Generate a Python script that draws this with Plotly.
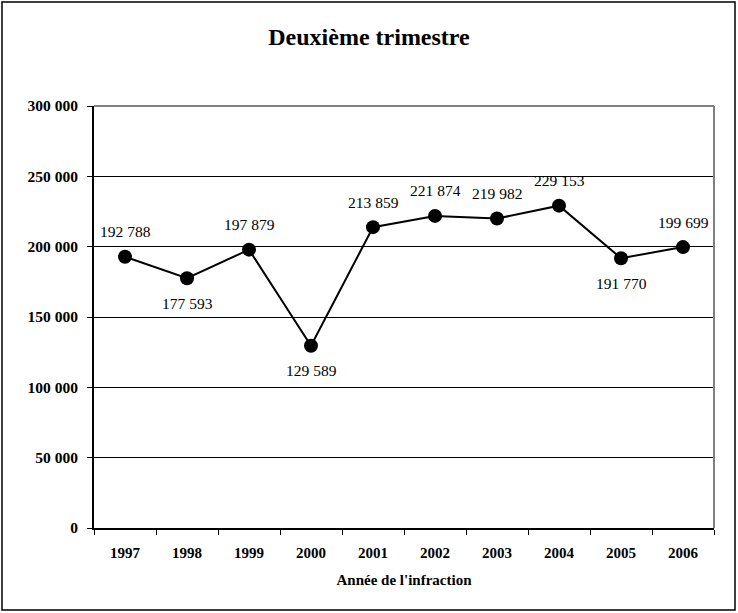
import plotly.graph_objects as go

years = ["1997", "1998", "1999", "2000", "2001", "2002", "2003", "2004", "2005", "2006"]
values = [192788, 177593, 197879, 129589, 213859, 221874, 219982, 229153, 191770, 199699]
label_text = ["192 788", "177 593", "197 879", "129 589", "213 859", "221 874", "219 982", "229 153", "191 770", "199 699"]
label_above = [True, False, True, False, True, True, True, True, False, True]

serif = "Liberation Serif, Times New Roman, serif"

fig = go.Figure()
fig.add_trace(go.Scatter(
    x=years, y=values, mode="lines+markers",
    line=dict(color="black", width=2),
    marker=dict(color="black", size=14),
    hoverinfo="skip", showlegend=False,
))

for i, (v, t, up) in enumerate(zip(values, label_text, label_above)):
    fig.add_annotation(x=i, y=v, xref="x", yref="y", text=t, showarrow=False,
                       yshift=25 if up else -25,
                       font=dict(family=serif, size=15.5, color="black"))

fig.update_layout(
    width=738, height=613,
    margin=dict(l=94, r=24, t=106, b=85, autoexpand=False),
    paper_bgcolor="white", plot_bgcolor="white",
    separators=", ",
    title=dict(text="Deuxième trimestre", x=0.5, xref="container", xanchor="center",
               y=1 - 37/613, yref="container", yanchor="middle",
               font=dict(family=serif, size=24, color="black", weight="bold")),
    xaxis=dict(
        type="category", categoryorder="array", categoryarray=years,
        range=[-0.5, 9.5], showgrid=False, showline=True, linecolor="black", linewidth=2,
        ticks="outside", tickson="boundaries", ticklen=5, tickcolor="black",
        tickangle=0, automargin=False, ticklabelstandoff=10,
        tickfont=dict(family=serif, size=15, color="black", weight="bold"),
        title=dict(text="Année de l'infraction", standoff=14,
                   font=dict(family=serif, size=15, color="black", weight="bold")),
        zeroline=False,
    ),
    yaxis=dict(
        range=[0, 300000], tickvals=[0, 50000, 100000, 150000, 200000, 250000, 300000],
        tickformat=",d", showgrid=True, gridcolor="black", gridwidth=1,
        showline=True, linecolor="black", linewidth=2, automargin=False,
        ticks="outside", ticklen=5, tickcolor="black", ticklabelstandoff=6,
        tickfont=dict(family=serif, size=15.5, color="black", weight="bold"),
        zeroline=False,
    ),
)

# plot area border (top/right in gray)
fig.add_shape(type="line", xref="paper", yref="paper", x0=0, x1=1, y0=1, y1=1,
              line=dict(color="#808080", width=2))
fig.add_shape(type="line", xref="paper", yref="paper", x0=1, x1=1, y0=0, y1=1,
              line=dict(color="#808080", width=2))
# outer frame
fig.add_shape(type="rect", xref="paper", yref="paper",
              x0=-92/620, x1=641/620, y0=-82/422, y1=526/422,
              line=dict(color="black", width=1.5), layer="below")

fig.write_html("out.html", config={"displayModeBar": False},
               post_script="document.body.style.margin='0';")
